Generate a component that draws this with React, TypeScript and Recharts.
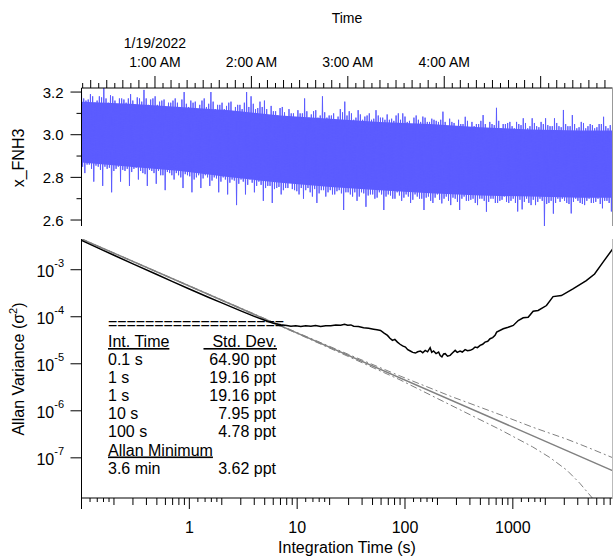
import React from 'react';
import { ComposedChart, Area, Line, LineChart, XAxis, YAxis } from 'recharts';

const FONT = '"Liberation Sans", Arial, Helvetica, sans-serif';
const BLUE = '#5c5cff';

// ---- time series (hours after midnight), spikes of the x_FNH3 trace ----
const timeStart = 0.238;
const timeEnd = 5.745;
const traceHigh = [
  3.21, 3.16, 3.19, 3.15, 3.18, 3.22, 3.15, 3.18, 3.14, 3.17,
  3.15, 3.19, 3.14, 3.17, 3.21, 3.14, 3.17, 3.14, 3.16, 3.13,
  3.15, 3.17, 3.13, 3.2, 3.13, 3.15, 3.12, 3.16, 3.13, 3.2,
  3.12, 3.14, 3.12, 3.15, 3.11, 3.14, 3.12, 3.2, 3.18, 3.12,
  3.155, 3.16, 3.09, 3.11, 3.09, 3.13, 3.08, 3.1, 3.08, 3.1,
  3.17, 3.08, 3.11, 3.08, 3.18, 3.08, 3.09, 3.07, 3.12, 3.155,
  3.11, 3.07, 3.115, 3.07, 3.09, 3.07, 3.115, 3.08, 3.07, 3.07,
  3.065, 3.1, 3.1, 3.06, 3.04, 3.09, 3.06, 3.08, 3.06, 3.07,
  3.06, 3.108, 3.04, 3.06, 3.03, 3.05, 3.084, 3.03, 3.04, 3.05,
  3.092, 3.03, 3.05, 3.126, 3.03, 3.05, 3.06, 3.03, 3.05, 3.077,
  3.03, 3.077, 3.04, 3.06, 3.077, 3.04, 3.077, 3.04, 3.116, 3.04,
  3.092, 3.03, 3.06, 3.03, 3.05, 3.03, 3.05, 3.084, 3.03, 3.045,
];
const traceLow = [
  2.82, 2.86, 2.78, 2.85, 2.76, 2.84, 2.73, 2.84, 2.78, 2.83,
  2.76, 2.84, 2.79, 2.82, 2.76, 2.83, 2.77, 2.81, 2.74, 2.82,
  2.79, 2.81, 2.75, 2.81, 2.73, 2.8, 2.75, 2.81, 2.76, 2.8,
  2.73, 2.8, 2.72, 2.79, 2.67, 2.79, 2.72, 2.79, 2.73, 2.78,
  2.69, 2.76, 2.68, 2.75, 2.72, 2.75, 2.78, 2.74, 2.72, 2.7,
  2.75, 2.71, 2.68, 2.74, 2.71, 2.74, 2.72, 2.74, 2.647, 2.73,
  2.71, 2.69, 2.73, 2.662, 2.72, 2.7, 2.73, 2.647, 2.72, 2.7,
  2.73, 2.69, 2.72, 2.68, 2.72, 2.7, 2.647, 2.71, 2.68, 2.72,
  2.678, 2.71, 2.67, 2.7, 2.647, 2.71, 2.69, 2.7, 2.67, 2.7,
  2.639, 2.7, 2.68, 2.69, 2.71, 2.68, 2.7, 2.64, 2.65, 2.7,
  2.67, 2.67, 2.7, 2.568, 2.68, 2.63, 2.7, 2.7, 2.68, 2.631,
  2.7, 2.68, 2.67, 2.7, 2.68, 2.7, 2.655, 2.69, 2.64, 2.67,
];
// shorter spikes in the fringe between the big ones
const fringeHigh = [
  3.17, 3.165, 3.18, 3.16, 3.175, 3.17, 3.185, 3.16, 3.17, 3.165,
  3.17, 3.16, 3.175, 3.155, 3.17, 3.165, 3.18, 3.155, 3.165, 3.15,
  3.16, 3.15, 3.165, 3.145, 3.16, 3.155, 3.14, 3.17, 3.145, 3.155,
  3.14, 3.15, 3.135, 3.155, 3.13, 3.14, 3.15, 3.13, 3.145, 3.125,
  3.13, 3.12, 3.135, 3.11, 3.125, 3.105, 3.12, 3.1, 3.115, 3.1,
  3.11, 3.095, 3.115, 3.09, 3.105, 3.09, 3.1, 3.085, 3.105, 3.09,
  3.1, 3.08, 3.095, 3.085, 3.1, 3.075, 3.09, 3.08, 3.095, 3.075,
  3.09, 3.07, 3.085, 3.065, 3.08, 3.07, 3.085, 3.06, 3.075, 3.065,
  3.07, 3.06, 3.075, 3.055, 3.07, 3.05, 3.065, 3.06, 3.05, 3.065,
  3.05, 3.06, 3.045, 3.065, 3.05, 3.055, 3.04, 3.06, 3.045, 3.055,
  3.04, 3.055, 3.035, 3.05, 3.045, 3.04, 3.055, 3.035, 3.05, 3.04,
  3.05, 3.035, 3.055, 3.04, 3.045, 3.035, 3.05, 3.04, 3.045, 3.035,
];
const fringeLow = [
  2.85, 2.86, 2.84, 2.855, 2.835, 2.85, 2.845, 2.83, 2.85, 2.835,
  2.84, 2.825, 2.845, 2.83, 2.815, 2.835, 2.82, 2.83, 2.81, 2.825,
  2.81, 2.82, 2.8, 2.815, 2.805, 2.79, 2.81, 2.795, 2.8, 2.785,
  2.795, 2.78, 2.79, 2.775, 2.785, 2.77, 2.78, 2.765, 2.775, 2.76,
  2.765, 2.75, 2.76, 2.745, 2.755, 2.74, 2.75, 2.745, 2.735, 2.75,
  2.74, 2.73, 2.745, 2.725, 2.74, 2.73, 2.72, 2.735, 2.725, 2.73,
  2.72, 2.73, 2.71, 2.725, 2.715, 2.72, 2.705, 2.72, 2.71, 2.715,
  2.7, 2.715, 2.705, 2.71, 2.695, 2.71, 2.7, 2.705, 2.69, 2.705,
  2.695, 2.7, 2.69, 2.705, 2.685, 2.7, 2.69, 2.695, 2.68, 2.7,
  2.69, 2.685, 2.7, 2.68, 2.695, 2.685, 2.69, 2.68, 2.695, 2.685,
  2.68, 2.695, 2.685, 2.69, 2.675, 2.69, 2.68, 2.685, 2.69, 2.675,
  2.685, 2.69, 2.675, 2.69, 2.68, 2.685, 2.675, 2.69, 2.68, 2.685,
];
// dense core of the trace
const coreTimes = [0.238, 0.74, 1.26, 1.78, 2.3, 2.82, 3.33, 3.85, 4.37, 4.89, 5.41, 5.745];
const coreHigh = [3.155, 3.145, 3.13, 3.115, 3.09, 3.075, 3.06, 3.05, 3.035, 3.025, 3.02, 3.02];
const coreLow = [2.87, 2.85, 2.83, 2.8, 2.775, 2.755, 2.74, 2.725, 2.715, 2.71, 2.705, 2.705];

const hourValues = [1, 2, 3, 4];
const hourLabels = ['1:00 AM', '2:00 AM', '3:00 AM', '4:00 AM'];
const dateLabel = '1/19/2022';
const concTicks = [2.6, 2.7, 2.8, 2.9, 3.0, 3.1, 3.2];

// ---- Allan variance ----
const allanTau = [
  0.1, 0.15, 0.2, 0.3, 0.5, 0.7, 1, 1.5, 2, 3, 4, 5, 6,
  7.07, 8, 8.75, 9.7, 10.8, 12, 13.4, 14.8, 16.5, 18.4,
  20.5, 22.8, 25.3, 27.5, 29.4, 31.5, 33.4, 37, 41.3, 46,
  51.1, 55, 59.3, 64, 68.8, 72.5, 76.5, 80.5, 85.1, 90,
  95, 101, 106, 112, 118, 125, 131, 139, 146, 154,
  162, 171, 177, 184, 194, 205, 212, 220, 228, 236,
  248, 262, 275, 292, 305, 324, 340, 361, 380, 402,
  425, 447, 470, 497, 525, 552, 585, 615, 650, 684,
  708, 815, 906, 1009, 1122, 1248, 1387, 1543, 1716, 2051,
  2361, 2820, 3610, 4800, 5730, 6840, 8400,
];
const allanVar = [
  4.21e-3, 2.75e-3, 2.03e-3, 1.33e-3, 7.9e-4, 5.6e-4, 3.9e-4, 2.6e-4, 1.97e-4, 1.33e-4, 1.02e-4, 8.4e-5, 7.3e-5,
  6.76e-5, 6.5e-5, 6.31e-5, 6.45e-5, 6.22e-5, 6.4e-5, 6.31e-5, 6.5e-5, 6.22e-5, 6.45e-5,
  6.45e-5, 6.7e-5, 6.63e-5, 6.9e-5, 6.63e-5, 6.7e-5, 6.31e-5, 6.2e-5, 5.83e-5, 5.7e-5,
  5.45e-5, 5.3e-5, 5.12e-5, 4.5e-5, 4.01e-5, 3.5e-5, 3.14e-5, 3.3e-5, 2.89e-5, 2.6e-5,
  2.4e-5, 2.27e-5, 2.0e-5, 1.87e-5, 1.75e-5, 1.69e-5, 1.8e-5, 1.87e-5, 1.72e-5, 1.93e-5,
  1.8e-5, 2.2e-5, 1.75e-5, 1.87e-5, 1.65e-5, 1.78e-5, 1.5e-5, 1.4e-5, 1.62e-5, 1.64e-5,
  1.45e-5, 1.51e-5, 1.7e-5, 1.93e-5, 1.75e-5, 1.87e-5, 1.78e-5, 2.0e-5, 1.9e-5, 1.93e-5,
  2.05e-5, 2.27e-5, 2.2e-5, 2.46e-5, 2.6e-5, 2.89e-5, 3.0e-5, 3.41e-5, 3.6e-5, 4.01e-5,
  4.71e-5, 5.56e-5, 6.0e-5, 6.53e-5, 8.3e-5, 9.5e-5, 9.78e-5, 1.31e-4, 1.36e-4, 1.73e-4,
  2.68e-4, 2.82e-4, 3.91e-4, 5.85e-4, 8.1e-4, 1.43e-3, 2.74e-3,
];
const fitTau = [0.1, 8400];
const fitVar = [4.5e-3, 5.36e-8];
const upperTau = [0.1, 10, 30, 90, 262, 760, 1520, 2200, 3160, 4170, 5460, 8400];
const upperVar = [4.5e-3, 4.6e-5, 1.58e-5, 5.5e-6, 2.06e-6, 8.3e-7, 4.5e-7, 3.34e-7, 2.5e-7, 1.95e-7, 1.52e-7, 1.01e-7];
const lowerTau = [0.1, 10, 30, 90, 262, 760, 1520, 2200, 3160, 4170, 5460, 6500];
const lowerVar = [4.5e-3, 4.4e-5, 1.42e-5, 4.55e-6, 1.34e-6, 4.0e-7, 1.72e-7, 1.02e-7, 5.5e-8, 2.9e-8, 1.4e-8, 4e-9];

const varTicks = [1e-3, 1e-4, 1e-5, 1e-6, 1e-7];
const varExponents = ['-3', '-4', '-5', '-6', '-7'];
const tauLabels = [1, 10, 100, 1000];

// ---- summary box ----
const intTimes = ['0.1 s', '1 s', '1 s', '10 s', '100 s'];
const stdDevs = ['64.90 ppt', '19.16 ppt', '19.16 ppt', '7.95 ppt', '4.78 ppt'];
const minTime = '3.6 min';
const minStdDev = '3.62 ppt';

// zigzag trace: big spike up, short spike down, short spike up, big spike down
const timeStep = (timeEnd - timeStart) / (traceHigh.length - 1);
const spikeData: { t: number; z: number }[] = [];
traceHigh.forEach((hi, i) => {
  const t0 = timeStart + i * timeStep;
  spikeData.push({ t: t0, z: hi });
  spikeData.push({ t: t0 + 0.25 * timeStep, z: fringeLow[i] });
  spikeData.push({ t: t0 + 0.5 * timeStep, z: fringeHigh[i] });
  spikeData.push({ t: t0 + 0.75 * timeStep, z: traceLow[i] });
});
const coreData = coreTimes.map((t, i) => ({ t, band: [coreLow[i], coreHigh[i]] }));
const timeTicks = Array.from({ length: 66 }, (_, i) => (i + 3) / 12);

const tauTicks: number[] = [];
[-1, 0, 1, 2, 3].forEach((e) => {
  const d = Math.pow(10, e);
  tauTicks.push(d);
  [1.2, 1.4, 1.6, 1.8].forEach((m) => tauTicks.push(m * d));
  [2, 3, 4, 5, 6, 7, 8, 9].forEach((m) => { if (m * d <= 8400) tauTicks.push(m * d); });
});

const toPoints = (xs: number[], ys: number[]) => xs.map((tau, i) => ({ tau, v: ys[i] }));
const allanData = toPoints(allanTau, allanVar);
const fitData = toPoints(fitTau, fitVar);
const upperData = toPoints(upperTau, upperVar);
const lowerData = toPoints(lowerTau, lowerVar);

const TimeTick = ({ x, y, payload }: any) => {
  const k = Math.round(payload.value * 12);
  const len = k % 12 === 0 ? 12 : k % 2 === 0 ? 8 : 5;
  const h = hourValues.indexOf(k / 12);
  return (
    <g>
      <path d={`M${x},${y}V${y - len}`} stroke="#000" strokeWidth={1} fill="none" />
      {h >= 0 && (
        <text x={x} y={y - 21} textAnchor="middle" fontSize={14} fontFamily={FONT} fill="#000">
          {hourLabels[h]}
        </text>
      )}
      {h === 0 && (
        <text x={x} y={y - 40} textAnchor="middle" fontSize={14} fontFamily={FONT} fill="#000">
          {dateLabel}
        </text>
      )}
    </g>
  );
};

const ConcTick = ({ x, y, payload }: any) => {
  const v = payload.value;
  const major = Math.round(v * 10) % 2 === 0;
  return (
    <g>
      <line x1={x - (major ? 11 : 5)} x2={x} y1={y} y2={y} stroke="#000" />
      {major && (
        <text x={x - 18} y={y + 5.5} textAnchor="end" fontSize={15} fontFamily={FONT} fill="#000">
          {v.toFixed(1)}
        </text>
      )}
    </g>
  );
};

const TauTick = ({ x, y, payload }: any) => {
  const v = payload.value;
  const e = Math.floor(Math.log10(v) + 1e-9);
  const m = v / Math.pow(10, e);
  const major = Math.abs(m - 1) < 0.01;
  const minor = Math.abs(m - Math.round(m)) < 0.01;
  const len = major ? 11 : minor ? 7 : 4;
  const lab = tauLabels.find((t) => Math.abs(t - v) / t < 1e-6);
  return (
    <g>
      <line x1={x} x2={x} y1={y} y2={y + len} stroke="#000" />
      {lab !== undefined && (
        <text x={x} y={y + 35} textAnchor="middle" fontSize={16} fontFamily={FONT} fill="#000">
          {lab}
        </text>
      )}
    </g>
  );
};

const VarTick = ({ x, y, payload }: any) => {
  const i = varTicks.findIndex((t) => Math.abs(t - payload.value) / t < 1e-6);
  return (
    <g>
      <line x1={x - 11} x2={x} y1={y} y2={y} stroke="#000" />
      <text x={x - 17.5} y={y + 7.5} textAnchor="end" fontSize={16} fontFamily={FONT} fill="#000">
        10<tspan dy={-10} fontSize={11}>{varExponents[i]}</tspan>
      </text>
    </g>
  );
};

const tableLeft = 108;
const tableRight = 276;

export default function App() {
  return (
    <div style={{ position: 'absolute', left: 0, top: 0, width: 613, height: 556, background: '#fff' }}>
      <div style={{ position: 'absolute', left: 0, top: 0 }}>
        <ComposedChart width={613} height={230} margin={{ top: 8, right: 0.5, bottom: 4, left: 0 }}>
          <XAxis
            dataKey="t"
            type="number"
            orientation="top"
            height={80}
            domain={[timeStart, timeEnd]}
            allowDataOverflow
            ticks={timeTicks}
            interval={0}
            tick={TimeTick}
            tickSize={0}
            tickMargin={0}
            tickLine={false}
            axisLine={{ stroke: '#000', strokeWidth: 1 }}
          />
          <YAxis
            type="number"
            width={81.5}
            domain={[2.572, 3.219]}
            allowDataOverflow
            ticks={concTicks}
            interval={0}
            tick={ConcTick}
            tickSize={0}
            tickMargin={0}
            tickLine={false}
            axisLine={{ stroke: '#000', strokeWidth: 1 }}
          />
          <Area
            data={coreData}
            dataKey="band"
            type="linear"
            stroke="none"
            fill={BLUE}
            fillOpacity={1}
            dot={false}
            activeDot={false}
            isAnimationActive={false}
          />
          <Line
            data={spikeData}
            dataKey="z"
            type="linear"
            stroke={BLUE}
            strokeWidth={1}
            dot={false}
            activeDot={false}
            isAnimationActive={false}
          />
        </ComposedChart>
      </div>
      <div style={{ position: 'absolute', left: 0, top: 230 }}>
        <LineChart width={613} height={326} margin={{ top: 9, right: 0.5, bottom: 0, left: 0 }}>
          <XAxis
            dataKey="tau"
            type="number"
            scale="log"
            domain={[0.1, 8400]}
            allowDataOverflow
            ticks={tauTicks}
            interval={0}
            height={58}
            tick={TauTick}
            tickSize={0}
            tickMargin={0}
            tickLine={false}
            axisLine={{ stroke: '#000', strokeWidth: 1 }}
          />
          <YAxis
            type="number"
            scale="log"
            width={81.5}
            domain={[1.4e-8, 4.5e-3]}
            allowDataOverflow
            ticks={varTicks}
            interval={0}
            tick={VarTick}
            tickSize={0}
            tickMargin={0}
            tickLine={false}
            axisLine={{ stroke: '#000', strokeWidth: 1 }}
          />
          <Line data={upperData} dataKey="v" stroke="#808080" strokeWidth={1} strokeDasharray="7 3 2 3" dot={false} activeDot={false} isAnimationActive={false} />
          <Line data={lowerData} dataKey="v" stroke="#808080" strokeWidth={1} strokeDasharray="7 3 2 3" dot={false} activeDot={false} isAnimationActive={false} />
          <Line data={fitData} dataKey="v" stroke="#808080" strokeWidth={1.5} dot={false} activeDot={false} isAnimationActive={false} />
          <Line data={allanData} dataKey="v" stroke="#000" strokeWidth={1.5} dot={false} activeDot={false} isAnimationActive={false} />
        </LineChart>
      </div>
      <svg width={613} height={556} style={{ position: 'absolute', left: 0, top: 0, pointerEvents: 'none' }} fontFamily={FONT} fill="#000">
        <line x1={612.5} x2={612.5} y1={88} y2={226} stroke="#999" strokeWidth={1} />
        <line x1={612.5} x2={612.5} y1={239} y2={498} stroke="#bbb" strokeWidth={1} />
        <text x={347} y={23} fontSize={14} textAnchor="middle">Time</text>
        <text transform="translate(24,158) rotate(-90)" fontSize={16} textAnchor="middle">x_FNH3</text>
        <text transform="translate(24,369) rotate(-90)" fontSize={16} textAnchor="middle">
          Allan Variance (σ<tspan dy={-7} fontSize={11}>2</tspan><tspan dy={7}>)</tspan>
        </text>
        <text x={347} y={553} fontSize={16} textAnchor="middle">Integration Time (s)</text>

        <text x={tableLeft} y={329} fontSize={16} textLength={176} lengthAdjust="spacing">===================</text>
        <text x={tableLeft} y={347} fontSize={16} style={{ textDecoration: 'underline' }}>Int. Time</text>
        <text x={tableRight + 1} y={347} fontSize={16} textAnchor="end" style={{ textDecoration: 'underline' }}>{'\u00a0\u00a0Std. Dev.'}</text>
        {intTimes.map((t, i) => (
          <g key={i}>
            <text x={tableLeft} y={365 + 18 * i} fontSize={16}>{t}</text>
            <text x={tableRight} y={365 + 18 * i} fontSize={16} textAnchor="end">{stdDevs[i]}</text>
          </g>
        ))}
        <text x={tableLeft} y={455.5} fontSize={16} style={{ textDecoration: 'underline' }}>Allan Minimum</text>
        <text x={tableLeft} y={473.5} fontSize={16}>{minTime}</text>
        <text x={tableRight} y={473.5} fontSize={16} textAnchor="end">{minStdDev}</text>
      </svg>
    </div>
  );
}
